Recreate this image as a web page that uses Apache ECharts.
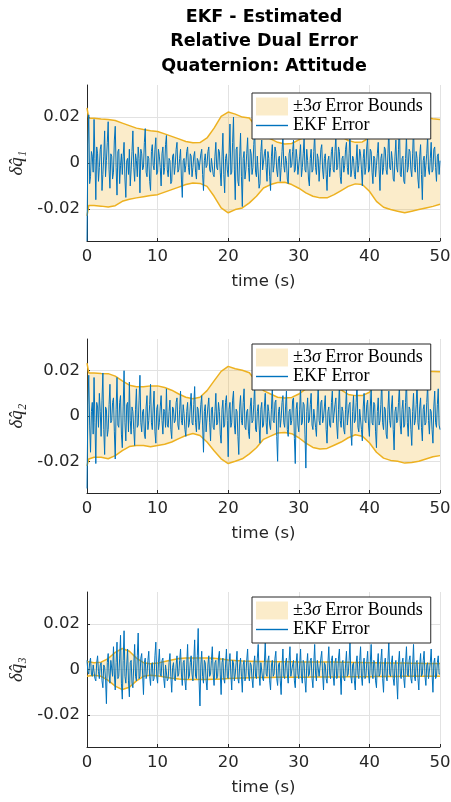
<!DOCTYPE html>
<html><head><meta charset="utf-8">
<script src="https://cdn.jsdelivr.net/npm/echarts@6/dist/echarts.min.js"></script>
<style>html,body{margin:0;padding:0;background:#fff}#c{width:451px;height:802px}</style>
</head><body><div id="c"></div>
<script>
// ---- data (values in units of 1e-3) ----
const boundTime = [0, 0.25, 1, 2, 3, 4, 5, 6, 7, 8, 9, 10, 11, 12, 13, 14, 15, 16, 17, 18, 19, 20,
  21, 22, 23, 24, 25, 26, 27, 28, 29, 30, 31, 32, 33, 34, 35, 36, 37, 38, 39, 40,
  41, 42, 43, 44, 45, 46, 47, 48, 49, 50];

const upper1 = [24, 19.5, 19.5, 19.2, 19.0, 18.5, 17.4, 16.3, 15.2, 14.6, 14.1, 13.7, 12.7, 11.6, 10.5, 9.4, 8.8, 8.9, 10.9, 15.2, 20.3, 22.2,
  21.3, 20.0, 19.6, 15.5, 12.0, 10.5, 9.0, 8.3, 8.5, 10.1, 11.6, 13.0, 14.0, 14.0, 13.0, 11.5, 9.8, 9.0, 9.2, 11.0,
  14.0, 17.0, 19.5, 20.5, 21.0, 21.0, 20.3, 19.8, 19.3, 19.0];
const lower1 = [-23, -18.5, -18.5, -18.8, -19.2, -18.6, -16.7, -15.8, -15.2, -14.7, -14.2, -13.8, -12.7, -11.6, -10.5, -9.4, -8.7, -8.9, -10.2, -14.5, -19.6, -21.7,
  -20.3, -19.6, -17.4, -14.5, -10.9, -9.4, -8.5, -8.4, -9.4, -11.0, -13.0, -14.5, -15.2, -15.2, -13.8, -12.0, -10.2, -9.1, -9.4, -12.3,
  -16.7, -19.3, -20.3, -21.0, -21.7, -21.0, -20.3, -19.6, -18.9, -18.0];

const upper2 = [23.3, 19.0, 19.0, 18.8, 18.7, 17.6, 15.5, 13.6, 12.9, 12.9, 13.3, 13.3, 12.6, 11.4, 9.7, 8.3, 7.6, 8.3, 11.2, 15.5, 19.7, 21.9,
  20.9, 20.2, 19.1, 15.0, 11.2, 9.7, 8.3, 7.9, 8.2, 9.7, 12.0, 13.5, 14.5, 14.5, 13.0, 11.5, 9.5, 9.0, 9.0, 10.5,
  14.0, 17.0, 19.0, 20.0, 20.5, 20.5, 20.0, 19.8, 19.7, 19.5];
const lower2 = [-22, -19, -18.2, -18.2, -18.9, -17.5, -15.3, -13.5, -13.0, -13.0, -13.6, -13.0, -12.5, -11.5, -10.0, -8.6, -7.7, -8.6, -11.5, -15.3, -18.9, -21.0,
  -20.0, -18.9, -16.7, -14.0, -10.3, -8.9, -7.5, -7.3, -7.8, -9.6, -12.0, -13.9, -14.6, -14.3, -12.9, -11.5, -9.6, -8.3, -8.9, -11.8,
  -16.0, -18.6, -19.6, -20.0, -20.8, -20.5, -20.0, -19.0, -18.0, -17.5];

const upper3 = [3.5, 3.3, 3.0, 3.2, 4.8, 7.5, 9.2, 8.0, 5.0, 3.0, 2.5, 2.8, 3.5, 4.2, 4.8, 5.0, 5.0, 5.0, 5.0, 4.9, 4.6, 4.2,
  3.9, 3.7, 3.6, 3.5, 3.5, 3.5, 3.4, 3.4, 3.4, 3.3, 3.3, 3.3, 3.3, 3.3, 3.3, 3.2, 3.2, 3.1, 3.1, 3.0,
  3.0, 2.9, 2.9, 2.8, 2.8, 2.7, 2.7, 2.6, 2.6, 2.6];
const lower3 = [-3.0, -2.8, -2.5, -3.0, -4.8, -7.3, -8.8, -7.8, -5.0, -3.0, -2.5, -2.8, -3.3, -3.8, -4.2, -4.4, -4.4, -4.4, -4.4, -4.3, -4.2, -4.0,
  -3.8, -3.7, -3.6, -3.5, -3.5, -3.5, -3.4, -3.4, -3.4, -3.4, -3.4, -3.3, -3.3, -3.3, -3.3, -3.3, -3.2, -3.2, -3.2, -3.2,
  -3.1, -3.1, -3.1, -3.1, -3.0, -3.0, -3.0, -3.0, -3.0, -3.0];

// EKF error samples every 0.125 s (t = 0 ... 50), one row per 5 s
const err1 = [
  -34, 8, 21, -9, -6, 5, 3, -4, 19, 2, -16, 7, 4, -8, -2, 6, 8, -12, -5, 3, 14, -6, 1, 9, 18, -3, -11, 4, 3, -7, -4, 10, 16, -2, -14, 5, 6, -9, -1, 4,
  -5, 3, 9, -7, -15, 1, 2, -5, 6, -10, -3, 5, 14, -2, -8, 4, 1, -6, 7, 2, -13, 6, 4, -3, -2, 9, 15, -4, -6, 3, 2, -8, -12, 5, 8, -1, -3, 6, 11, -5,
  -4, 6, 3, -2, -10, 4, 7, -5, -2, 8, 12, -3, -6, 2, 1, -9, -8, 3, 4, -5, -1, 6, 9, -4, -3, 2, 6, -7, -15, 1, 2, -4, -1, 5, 7, -2, -5, 4, 3, -6,
  -2, 3, 5, -4, -7, 2, 1, -3, -3, 4, 6, -5, -12, 1, 4, -2, -1, 5, 7, -3, -4, 2, 2, -5, -6, 3, 9, -2, -3, 6, 5, -4, -10, 3, 13, -5, -13, 2, 4, -3,
  -6, 4, 17, -5, -4, 9, 20, -3, -16, 6, 7, -8, -10, 3, 13, -6, -19, 2, 5, -7, -3, 4, 11, -2, -8, 6, 4, -5, -2, 8, 15, -4, -6, 3, 3, -11, -9, 5, 10, -3,
  -3, 4, 6, -2, -8, 5, 2, -6, -12, 3, 8, -4, -1, 7, 5, -3, -6, 2, 3, -8, -2, 5, 12, -1, -4, 3, 1, -7, -9, 4, 6, -2, -1, 5, 10, -4, -3, 6, 2, -5,
  -5, 3, 8, -6, -2, 4, 11, -3, -4, 6, 1, -7, -10, 2, 6, -4, -3, 5, 13, -2, -5, 4, 2, -8, -1, 6, 8, -3, -7, 2, 4, -5, -12, 1, 3, -6, -2, 5, 7, -3,
  -4, 5, 12, -3, -2, 7, 5, -6, -9, 2, 3, -4, -1, 6, 9, -2, -5, 4, 14, -6, -3, 3, 2, -5, -7, 1, 8, -4, -1, 6, 4, -3, -10, 2, 6, -5, -2, 7, 11, -4,
  -3, 6, 5, -4, -9, 3, 2, -6, -1, 4, 9, -3, -12, 2, 4, -5, -2, 7, 6, -3, -5, 4, 15, -2, -3, 5, 1, -7, -8, 3, 10, -2, -4, 6, 19, -5, -6, 2, 3, -8,
  -9, 2, 12, -4, -2, 6, 5, -3, -6, 4, 16, -2, -4, 5, 2, -7, -11, 3, 8, -5, -16, 1, 3, -6, -1, 4, 12, -3, -5, 2, 9, -4, -3, 6, 7, -2, -8, 3, 4, -5,
  1];
const err2 = [
  -32, 5, 18, -4, -16, 2, 6, -8, 17, -3, -21, 6, 4, -5, 10, 2, -9, 7, 19, -6, -17, 4, 3, -9, -6, 5, 14, -3, -2, 6, 8, -7, -19, 3, 17, -4, -5, 6, 9, -8,
  -14, 4, 20, -3, -11, 5, 6, -7, 15, -2, -8, 4, 2, -6, -13, 3, 12, -5, -4, 7, 18, -3, -7, 2, 3, -8, -10, 4, 9, -6, -2, 5, 14, -3, -6, 4, 11, -7, -12, 3,
  5, -6, -3, 4, 9, -2, -8, 3, 2, -5, 12, -4, -5, 2, 7, -6, -10, 4, 3, -3, -2, 6, 8, -4, -6, 3, 11, -2, -4, 5, 1, -6, -9, 2, 6, -5, -3, 4, 10, -3,
  -4, 5, 13, -3, -7, 4, 3, -6, -2, 5, 9, -4, -16, 2, 5, -7, -1, 4, 8, -3, -11, 3, 4, -5, -6, 2, 10, -4, -3, 6, 2, -8, -12, 3, 7, -5, -4, 6, 9, -2,
  -18, 3, 6, -5, -3, 7, 11, -4, -8, 3, 2, -9, -17, 4, 9, -2, -4, 6, 12, -5, -6, 2, 3, -7, -10, 4, 8, -3, -2, 5, 14, -6, -7, 2, 5, -4, -12, 3, 6, -5,
  -4, 4, 10, -3, -8, 5, 2, -4, -6, 3, 13, -2, -3, 6, 7, -9, -20, 2, 4, -5, -1, 6, 9, -3, -5, 4, 11, -6, -9, 2, 3, -4, -2, 7, 8, -10, -21, 3, 6, -4,
  -7, 3, 12, -4, -3, 6, 5, -8, -23, 2, 8, -3, -2, 5, 10, -4, -6, 3, 3, -5, -9, 4, 13, -2, -4, 6, 7, -3, -1, 4, 9, -6, -12, 2, 4, -4, -5, 6, 11, -3,
  -3, 5, 8, -4, -10, 3, 14, -2, -5, 4, 2, -6, -8, 3, 12, -4, -4, 5, 6, -7, -13, 2, 9, -3, -2, 6, 15, -5, -7, 3, 3, -6, -11, 4, 10, -2, -3, 5, 7, -4,
  -9, 4, 12, -3, -4, 6, 5, -7, -14, 2, 8, -4, -2, 5, 16, -3, -6, 4, 3, -8, -10, 3, 11, -2, -5, 4, 9, -6, -15, 2, 4, -3, -2, 6, 13, -4, -8, 3, 7, -5,
  -4, 6, 17, -3, -9, 4, 3, -6, -13, 2, 10, -4, -2, 5, 15, -3, -6, 4, 8, -5, -11, 3, 5, -4, -3, 6, 14, -2, -8, 3, 2, -6, -12, 4, 11, -3, -5, 5, 12, -4,
  -6];
const err3 = [
  4, -1, -2, 3, 5, -2, -3, 2, 2, -4, -5, 3, 6, -1, -4, 2, 3, -5, -8, 2, 1, -4, -15, 3, 7, -2, -6, 4, 4, -3, 10, -2, -9, 3, 12, -4, -3, 5, 15, -6,
  -13, 4, 17, -3, -6, 2, 9, -5, -12, 3, 4, -6, -8, 2, 11, -3, -5, 6, 16, -4, -3, 5, 7, -2, -11, 3, 5, -4, -2, 4, 8, -3, -7, 2, 3, -5, -4, 6, 12, -3,
  -6, 3, 9, -2, -3, 4, 5, -4, -8, 2, 2, -5, -4, 3, 7, -3, -10, 1, 3, -4, -5, 2, 6, -3, -2, 4, 9, -2, -7, 3, 4, -5, -9, 2, 11, -4, -3, 3, 6, -2,
  -5, 4, 13, -3, -4, 6, 18, -5, -16, 2, 8, -3, -6, 4, 3, -5, -9, 2, 6, -3, -2, 4, 10, -2, -7, 3, 4, -4, -3, 5, 8, -2, -11, 3, 5, -4, -6, 2, 9, -3,
  -4, 3, 7, -2, -9, 4, 3, -5, -2, 3, 8, -4, -6, 2, 5, -3, -10, 2, 4, -5, -3, 4, 9, -2, -5, 3, 2, -4, -8, 2, 6, -3, -4, 5, 11, -2, -7, 3, 3, -4,
  -5, 3, 12, -2, -3, 4, 6, -5, -9, 2, 4, -3, -2, 5, 8, -4, -7, 2, 3, -5, -11, 2, 9, -3, -4, 3, 5, -2, -6, 4, 10, -3, -3, 2, 4, -5, -8, 3, 7, -2,
  -4, 2, 9, -3, -6, 4, 3, -5, -10, 2, 7, -3, -2, 4, 5, -4, -8, 3, 11, -2, -5, 4, 4, -3, -3, 5, 8, -2, -9, 3, 2, -4, -6, 3, 10, -2, -4, 4, 6, -3,
  -7, 3, 5, -4, -3, 5, 9, -2, -11, 3, 4, -4, -5, 2, 8, -3, -2, 4, 12, -3, -6, 2, 3, -5, -9, 3, 6, -2, -4, 4, 10, -3, -7, 2, 5, -4, -3, 3, 8, -2,
  -6, 3, 11, -2, -4, 4, 3, -5, -8, 2, 7, -3, -2, 4, 9, -4, -10, 2, 5, -3, -5, 4, 12, -2, -3, 3, 6, -4, -7, 2, 4, -5, -13, 3, 8, -2, -4, 3, 5, -4,
  -8, 3, 10, -2, -3, 4, 6, -4, -6, 2, 11, -3, -5, 3, 4, -4, -9, 2, 7, -3, -2, 4, 8, -3, -7, 2, 3, -4, -4, 3, 9, -2, -10, 3, 5, -4, -3, 3, 6, -2,
  -2];
const errStep = 0.125;

const yTickValues = [-0.02, 0, 0.02];
const yNames = ['δq̂₁', 'δq̂₂', 'δq̂₃'];
const titleText = 'EKF - Estimated\nRelative Dual Error\nQuaternion: Attitude';
const BOUND_NAME = '±3σ Error Bounds';
const ERR_NAME = 'EKF Error';

// ---- styling / layout ----
const FILL = 'rgba(237,177,32,0.24)';
const ORANGE = '#EDB120';
const BLUE = '#0072BD';
const AX = '#262626';
const GRIDC = '#e2e2e2';
const SANS = 'DejaVu Sans';
const SERIF = 'Liberation Serif';
const grids = [{top: 85, height: 156}, {top: 339, height: 154}, {top: 592, height: 155}];
const legendTops = [93, 344, 597];

const uppers = [upper1, upper2, upper3];
const lowers = [lower1, lower2, lower3];
const errs = [err1, err2, err3];

const option = {
  animation: false,
  backgroundColor: '#fff',
  title: {
    text: titleText, left: 264, top: 5, textAlign: 'center', padding: 0,
    textStyle: {fontFamily: SANS, fontSize: 17.5, fontWeight: 'bold', color: '#000', lineHeight: 24.5}
  },
  grid: grids.map(g => ({left: 87, width: 353, top: g.top, height: g.height, containLabel: false, outerBoundsMode: 'none'})),
  xAxis: grids.map((g, i) => ({
    type: 'value', gridIndex: i, min: 0, max: 50, interval: 10,
    axisLine: {show: true, onZero: false, lineStyle: {color: AX, width: 1}},
    axisTick: {show: true, inside: true, length: 3, lineStyle: {color: AX}},
    axisLabel: {fontFamily: SANS, fontSize: 16.5, color: AX, margin: 7, hideOverlap: false},
    splitLine: {show: true, lineStyle: {color: GRIDC, width: 1}},
    name: 'time (s)', nameLocation: 'middle', nameGap: 32,
    nameTextStyle: {fontFamily: SANS, fontSize: 16.5, color: AX}
  })),
  yAxis: grids.map((g, i) => ({
    type: 'value', gridIndex: i, min: -0.034, max: 0.034,
    axisLine: {show: true, onZero: false, lineStyle: {color: AX, width: 1}},
    axisTick: {show: true, inside: true, length: 3, customValues: yTickValues, lineStyle: {color: AX}},
    axisLabel: {customValues: yTickValues, fontFamily: SANS, fontSize: 16.5, color: AX, margin: 7,
      formatter: v => (v === 0 ? '0' : v.toFixed(2))},
    splitLine: {show: true, lineStyle: {color: GRIDC, width: 1}},
    name: yNames[i], nameLocation: 'middle', nameGap: 57, nameRotate: 90,
    nameTextStyle: {fontFamily: SERIF, fontStyle: 'italic', fontSize: 19, color: AX}
  })),
  legend: grids.map((g, i) => ({
    left: 252, top: legendTops[i], orient: 'vertical', padding: [4, 8, 4, 4], itemGap: 0,
    itemWidth: 32, itemHeight: 18, selectedMode: false,
    backgroundColor: '#fff', borderColor: AX, borderWidth: 1, borderRadius: 0,
    textStyle: {fontFamily: SERIF, fontSize: 18, color: '#000', lineHeight: 19,
      rich: {i: {fontFamily: SERIF, fontStyle: 'italic', fontSize: 18, color: '#000'}}},
    formatter: n => (n === BOUND_NAME ? '±3{i|σ} Error Bounds' : n),
    data: [
      {name: BOUND_NAME, icon: 'rect', itemStyle: {color: FILL, borderWidth: 0}},
      {name: ERR_NAME, icon: 'path://M0,0H32V1.4H0Z', itemStyle: {color: BLUE}}
    ]
  })),
  series: []
};

grids.forEach((g, i) => {
  const up = uppers[i], lo = lowers[i], er = errs[i];
  const base = {type: 'line', xAxisIndex: i, yAxisIndex: i, symbol: 'none', showSymbol: false, silent: true};
  // upper bound: line + fill down to zero
  option.series.push(Object.assign({}, base, {
    name: BOUND_NAME, z: 2, lineStyle: {color: ORANGE, width: 1.5}, itemStyle: {color: FILL},
    areaStyle: {color: FILL, opacity: 1, origin: 0},
    data: boundTime.map((t, k) => [t, up[k] / 1000])
  }));
  // lower bound: line + fill up to zero
  option.series.push(Object.assign({}, base, {
    name: 'lowerBound' + i, z: 2, lineStyle: {color: ORANGE, width: 1.5}, itemStyle: {color: ORANGE},
    areaStyle: {color: FILL, opacity: 1, origin: 0},
    data: boundTime.map((t, k) => [t, lo[k] / 1000])
  }));
  option.series.push(Object.assign({}, base, {
    name: ERR_NAME, z: 3, lineStyle: {color: BLUE, width: 1}, itemStyle: {color: BLUE},
    data: er.map((v, k) => [k * errStep, v / 1000])
  }));
});

const chart = echarts.init(document.getElementById('c'), null, {renderer: 'canvas'});
chart.setOption(option);
</script>
</body></html>
